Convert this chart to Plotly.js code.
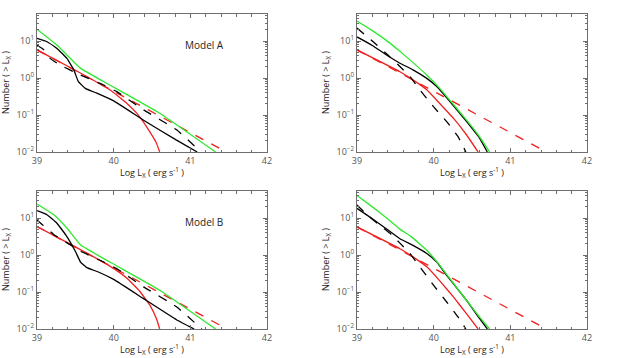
<!DOCTYPE html>
<html>
<head>
<meta charset="utf-8">
<script src="https://cdn.plot.ly/plotly-3.0.1.min.js"></script>
<style>
  html, body { margin: 0; padding: 0; background: #fff; }
  #chart { width: 623px; height: 358px; }
</style>
</head>
<body>
<div id="chart"></div>
<script>
// Cumulative XLF curves, Number(>Lx) vs log Lx
// panel 1: Model A (left), panel 2: top right, panel 3: Model B, panel 4: bottom right
const p1GreenX = [39, 39.26, 39.57, 39.95, 40.6, 41.33];
const p1GreenY = [20.9, 7.76, 1.82, 0.646, 0.112, 0.01];
const p1BlackX = [39, 39.13, 39.26, 39.39, 39.48, 39.54, 39.63, 39.78, 40.0, 40.39, 40.82, 41.09];
const p1BlackY = [11.75, 9.55, 6.31, 3.39, 1.66, 0.794, 0.525, 0.389, 0.24, 0.0724, 0.0209, 0.01];
const p1BlackDashX = [39, 39.09, 39.17, 39.3, 39.57, 39.87, 40.04, 40.39, 40.82, 41.14];
const p1BlackDashY = [7.76, 5.75, 3.39, 2.24, 1.2, 0.646, 0.427, 0.138, 0.0398, 0.01];
const p1RedX = [39, 39.5, 39.95, 40.17, 40.3, 40.43, 40.56, 40.6];
const p1RedY = [5.75, 1.62, 0.479, 0.209, 0.112, 0.0479, 0.017, 0.01];
const p1RedDashX = [39, 41.47];
const p1RedDashY = [5.75, 0.01];

const p2GreenX = [39, 39.2, 39.4, 39.56, 39.69, 39.91, 40.08, 40.19, 40.43, 40.6, 40.73];
const p2GreenY = [34.7, 19.1, 9.77, 5.25, 3.09, 1.2, 0.525, 0.282, 0.0724, 0.0257, 0.01];
const p2BlackX = [39, 39.2, 39.4, 39.56, 39.73, 39.91, 40.04, 40.19, 40.43, 40.6, 40.7];
const p2BlackY = [12.9, 7.59, 3.98, 2.51, 1.66, 0.977, 0.589, 0.263, 0.0661, 0.0234, 0.01];
const p2BlackDashX = [39, 39.2, 39.4, 39.56, 39.69, 39.82, 40.0, 40.17, 40.32, 40.42];
const p2BlackDashY = [22.4, 10, 4.27, 2.04, 1.1, 0.479, 0.166, 0.0661, 0.0257, 0.01];
const p2RedX = [39, 39.56, 39.73, 39.91, 40.08, 40.26, 40.43, 40.58];
const p2RedY = [5.75, 1.48, 0.891, 0.479, 0.204, 0.0813, 0.0288, 0.01];
const p2RedDashX = [39, 41.47];
const p2RedDashY = [5.75, 0.01];

const p3GreenX = [39, 39.22, 39.39, 39.57, 39.95, 40.6, 41.33];
const p3GreenY = [24.0, 12.3, 5.37, 1.86, 0.646, 0.112, 0.01];
const p3BlackX = [39, 39.13, 39.26, 39.39, 39.5, 39.57, 39.65, 39.8, 40.0, 40.39, 40.82, 41.05];
const p3BlackY = [15.8, 12.3, 7.24, 3.16, 1.26, 0.631, 0.457, 0.347, 0.219, 0.0661, 0.0178, 0.01];
const p3BlackDashX = [39, 39.07, 39.22, 39.43, 39.57, 39.87, 40.04, 40.39, 40.82, 41.15];
const p3BlackDashY = [8.91, 6.61, 3.55, 1.91, 1.26, 0.646, 0.427, 0.138, 0.0398, 0.01];
const p3RedX = [39, 39.5, 39.95, 40.17, 40.34, 40.47, 40.56, 40.6];
const p3RedY = [5.89, 1.66, 0.501, 0.24, 0.105, 0.0447, 0.0186, 0.01];
const p3RedDashX = [39, 41.48];
const p3RedDashY = [5.89, 0.01];

const p4GreenX = [39, 39.2, 39.4, 39.56, 39.71, 39.91, 40.08, 40.19, 40.43, 40.6, 40.73];
const p4GreenY = [40.7, 20.0, 9.55, 5.01, 3.09, 1.35, 0.525, 0.263, 0.0589, 0.0209, 0.01];
const p4BlackX = [39, 39.2, 39.4, 39.56, 39.73, 39.91, 40.04, 40.17, 40.43, 40.6, 40.7];
const p4BlackY = [18.2, 9.55, 4.79, 2.75, 1.82, 1.1, 0.646, 0.282, 0.0589, 0.0191, 0.01];
const p4BlackDashX = [39, 39.15, 39.3, 39.45, 39.56, 39.69, 39.82, 40.0, 40.17, 40.32, 40.42];
const p4BlackDashY = [22.4, 11.2, 6.31, 3.55, 2.09, 1.1, 0.479, 0.151, 0.0537, 0.0209, 0.01];
const p4RedX = [39, 39.56, 39.73, 39.91, 40.08, 40.26, 40.43, 40.58];
const p4RedY = [5.75, 1.48, 0.891, 0.479, 0.2, 0.0724, 0.0257, 0.01];
const p4RedDashX = [39, 41.47];
const p4RedDashY = [5.75, 0.01];

const yTickVals = [0.01, 0.1, 1, 10];
const yTickText = ["10<sup>−2</sup>", "10<sup>−1</sup>", "10<sup>0</sup>", "10<sup>1</sup>"];
const xTickVals = [39, 40, 41, 42];
const panelLabels = ["Model A", "", "Model B", ""];

const green = "#2ee82e";
const red = "#ee2020";
const gray = "#6e6e6e";

function line(x, y, color, dash, n) {
  const s = n === 1 ? "" : n;
  return {
    type: "scatter", mode: "lines", x, y,
    xaxis: "x" + s, yaxis: "y" + s,
    line: { color, width: 1.3, dash: dash ? "dash" : "solid", shape: "spline", smoothing: 0.3 },
    hoverinfo: "skip", showlegend: false,
  };
}

const traces = [
  line(p1RedDashX, p1RedDashY, red, true, 1),
  line(p1RedX, p1RedY, red, false, 1),
  line(p1BlackDashX, p1BlackDashY, "#000", true, 1),
  line(p1BlackX, p1BlackY, "#000", false, 1),
  line(p1GreenX, p1GreenY, green, false, 1),

  line(p2RedDashX, p2RedDashY, red, true, 2),
  line(p2RedX, p2RedY, red, false, 2),
  line(p2BlackDashX, p2BlackDashY, "#000", true, 2),
  line(p2BlackX, p2BlackY, "#000", false, 2),
  line(p2GreenX, p2GreenY, green, false, 2),

  line(p3RedDashX, p3RedDashY, red, true, 3),
  line(p3RedX, p3RedY, red, false, 3),
  line(p3BlackDashX, p3BlackDashY, "#000", true, 3),
  line(p3BlackX, p3BlackY, "#000", false, 3),
  line(p3GreenX, p3GreenY, green, false, 3),

  line(p4RedDashX, p4RedDashY, red, true, 4),
  line(p4RedX, p4RedY, red, false, 4),
  line(p4BlackDashX, p4BlackDashY, "#000", true, 4),
  line(p4BlackX, p4BlackY, "#000", false, 4),
  line(p4GreenX, p4GreenY, green, false, 4),
];

const W = 623, H = 358;
// pixel boxes of the four frames: [left, right, top, bottom]
const boxes = [[37, 267, 14, 152], [357, 587, 14, 152], [37, 267, 191, 329], [357, 587, 191, 329]];

const font = { family: "Open Sans, DejaVu Sans, sans-serif", size: 9, color: "#444" };

const layout = {
  width: W, height: H,
  margin: { l: 0, r: 0, t: 0, b: 0 },
  paper_bgcolor: "#fff", plot_bgcolor: "#fff",
  font,
  showlegend: false,
  annotations: [],
};

boxes.forEach((b, i) => {
  const s = i === 0 ? "" : i + 1;
  const common = {
    showline: true, linecolor: gray, linewidth: 1.2, mirror: "ticks",
    ticks: "inside", ticklen: 4, tickcolor: gray, tickwidth: 1,
    showgrid: false, zeroline: false,
    tickfont: { family: font.family, size: 9, color: "#555" },
  };
  layout["xaxis" + s] = {
    ...common,
    domain: [b[0] / W, b[1] / W],
    anchor: "y" + s,
    range: [39, 42],
    tickvals: xTickVals,
    minor: { dtick: 0.2, ticks: "inside", ticklen: 2.5, tickcolor: gray },
  };
  layout["yaxis" + s] = {
    ...common,
    type: "log",
    domain: [1 - b[3] / H, 1 - b[2] / H],
    anchor: "x" + s,
    range: [-2, 1.73],
    tickvals: yTickVals,
    ticktext: yTickText,
    minor: { dtick: "D1", ticks: "inside", ticklen: 2, tickcolor: gray },
  };
  layout.annotations.push({
    xref: "paper", yref: "paper",
    x: (b[0] + b[1]) / 2 / W, y: 1 - (b[3] + 20) / H,
    xanchor: "center", yanchor: "middle", showarrow: false,
    text: "Log L<sub>X</sub> ( erg s<sup>-1</sup> )",
    font: { family: font.family, size: 9, color: "#222" },
  });
  layout.annotations.push({
    xref: "paper", yref: "paper",
    x: (b[0] - 31) / W, y: 1 - (b[2] + b[3]) / 2 / H,
    xanchor: "center", yanchor: "middle", showarrow: false, textangle: -90,
    text: "Number ( > L<sub>X</sub> )",
    font: { family: font.family, size: 9, color: "#222" },
  });
  if (panelLabels[i]) {
    layout.annotations.push({
      xref: "paper", yref: "paper",
      x: 204 / W, y: 1 - (b[2] + 31) / H,
      xanchor: "center", yanchor: "middle", showarrow: false,
      text: panelLabels[i],
      font: { family: font.family, size: 10, color: "#222" },
    });
  }
});

Plotly.newPlot("chart", traces, layout, { displayModeBar: false, staticPlot: true });
</script>
</body>
</html>
